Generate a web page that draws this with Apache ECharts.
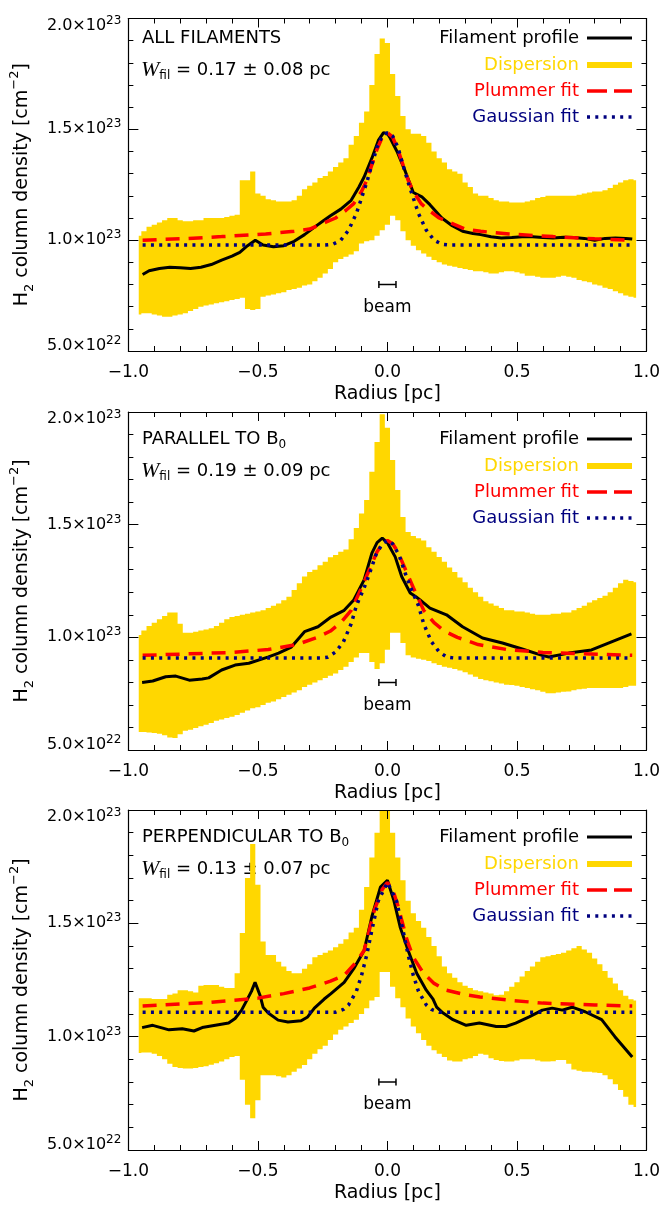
<!DOCTYPE html>
<html><head><meta charset="utf-8">
<script src="https://cdn.jsdelivr.net/npm/echarts@6/dist/echarts.min.js"></script>
<style>html,body{margin:0;padding:0;background:#fff}#c{width:663px;height:1205px}</style>
</head><body><div id="c"></div>
<script>
// Column densities are in units of 1e23 cm^-2; radii in pc.
const X_TICKS = [-1.0, -0.5, 0.0, 0.5, 1.0];
const Y_TICKS = [0.5, 1.0, 1.5, 2.0];

// Dispersion band sampled on bin centres (pc)
const BAND_R = [-0.96,-0.94,-0.92,-0.90,-0.88,-0.86,-0.84,-0.82,-0.80,-0.78,
-0.76,-0.74,-0.72,-0.70,-0.68,-0.66,-0.64,-0.62,-0.60,-0.58,
-0.56,-0.54,-0.52,-0.50,-0.48,-0.46,-0.44,-0.42,-0.40,-0.38,
-0.36,-0.34,-0.32,-0.30,-0.28,-0.26,-0.24,-0.22,-0.20,-0.18,
-0.16,-0.14,-0.12,-0.10,-0.08,-0.06,-0.04,-0.02,0.00,0.02,
0.04,0.06,0.08,0.10,0.12,0.14,0.16,0.18,0.20,0.22,
0.24,0.26,0.28,0.30,0.32,0.34,0.36,0.38,0.40,0.42,
0.44,0.46,0.48,0.50,0.52,0.54,0.56,0.58,0.60,0.62,
0.64,0.66,0.68,0.70,0.72,0.74,0.76,0.78,0.80,0.82,
0.84,0.86,0.88,0.90,0.92,0.94,0.96];

// Panel 1: ALL FILAMENTS
const ALL_UPPER = [1.02,1.04,1.06,1.07,1.08,1.09,1.10,1.10,1.09,1.085,
1.085,1.09,1.09,1.10,1.10,1.10,1.10,1.105,1.11,1.115,
1.27,1.27,1.31,1.21,1.20,1.185,1.18,1.175,1.175,1.175,
1.18,1.20,1.23,1.245,1.26,1.28,1.29,1.31,1.33,1.35,
1.37,1.43,1.47,1.53,1.58,1.70,1.84,1.91,1.89,1.75,
1.65,1.56,1.50,1.48,1.48,1.47,1.44,1.40,1.37,1.35,
1.32,1.31,1.30,1.26,1.24,1.21,1.20,1.20,1.19,1.18,
1.175,1.175,1.17,1.17,1.17,1.175,1.18,1.19,1.195,1.20,
1.20,1.20,1.20,1.20,1.20,1.205,1.21,1.215,1.22,1.22,
1.225,1.235,1.25,1.26,1.27,1.275,1.27];
const ALL_LOWER = [0.665,0.67,0.67,0.665,0.66,0.655,0.655,0.66,0.665,0.67,
0.68,0.69,0.70,0.705,0.71,0.715,0.72,0.725,0.73,0.735,
0.74,0.69,0.685,0.69,0.745,0.75,0.755,0.76,0.765,0.775,
0.78,0.785,0.795,0.80,0.815,0.83,0.85,0.87,0.90,0.915,
0.925,0.935,0.95,0.985,0.995,1.00,1.02,1.045,1.07,1.11,
1.09,1.04,1.00,0.975,0.955,0.94,0.925,0.91,0.90,0.89,
0.885,0.88,0.875,0.87,0.865,0.86,0.86,0.855,0.85,0.85,
0.855,0.86,0.86,0.855,0.85,0.84,0.84,0.835,0.83,0.83,
0.83,0.835,0.84,0.835,0.83,0.82,0.815,0.81,0.80,0.795,
0.785,0.78,0.77,0.76,0.75,0.745,0.74];
const ALL_PROF_R = [-0.945,-0.92,-0.88,-0.84,-0.80,-0.76,-0.72,-0.68,-0.64,-0.60,-0.57,-0.54,-0.51,-0.48,-0.44,-0.40,-0.36,-0.32,-0.28,-0.25,-0.22,-0.18,-0.14,-0.11,-0.09,-0.06,-0.035,-0.015,0.0,0.011,0.037,0.069,0.10,0.133,0.164,0.21,0.25,0.29,0.33,0.36,0.40,0.44,0.48,0.52,0.56,0.60,0.64,0.68,0.72,0.76,0.80,0.84,0.88,0.92,0.945];
const ALL_PROF_N = [0.845,0.862,0.872,0.878,0.876,0.872,0.878,0.89,0.91,0.928,0.945,0.975,1.0,0.978,0.97,0.975,0.995,1.025,1.06,1.085,1.11,1.14,1.18,1.24,1.285,1.37,1.45,1.485,1.48,1.46,1.40,1.31,1.215,1.195,1.16,1.10,1.065,1.04,1.03,1.025,1.015,1.01,1.012,1.015,1.015,1.012,1.01,1.013,1.012,1.008,1.0,1.008,1.01,1.008,1.005];
const ALL_PLUM_R = [-0.945,-0.80,-0.64,-0.47,-0.36,-0.30,-0.24,-0.20,-0.16,-0.13,-0.10,-0.08,-0.06,-0.04,-0.02,0.0,0.02,0.04,0.06,0.08,0.10,0.13,0.16,0.20,0.24,0.30,0.36,0.47,0.64,0.80,0.945];
const ALL_PLUM_N = [1.0,1.006,1.016,1.028,1.04,1.05,1.08,1.10,1.135,1.165,1.22,1.27,1.34,1.41,1.465,1.485,1.465,1.41,1.34,1.27,1.22,1.165,1.135,1.10,1.08,1.05,1.04,1.028,1.016,1.006,1.0];
const ALL_GAUS_R = [-0.945,-0.24,-0.21,-0.18,-0.15,-0.12,-0.10,-0.08,-0.06,-0.04,-0.02,0.0,0.02,0.04,0.06,0.08,0.10,0.12,0.15,0.18,0.21,0.24,0.945];
const ALL_GAUS_N = [0.978,0.978,0.982,1.0,1.045,1.12,1.19,1.26,1.34,1.42,1.47,1.485,1.47,1.42,1.34,1.26,1.19,1.12,1.045,1.0,0.982,0.978,0.978];

// Panel 2: PARALLEL TO B0
const PAR_UPPER = [1.01,1.03,1.05,1.065,1.08,1.095,1.11,1.11,1.06,1.02,
1.02,1.025,1.03,1.035,1.04,1.05,1.065,1.08,1.09,1.095,
1.10,1.105,1.11,1.115,1.12,1.13,1.14,1.15,1.165,1.18,
1.21,1.24,1.27,1.29,1.30,1.32,1.335,1.355,1.365,1.38,
1.39,1.435,1.485,1.55,1.61,1.735,1.867,1.99,1.93,1.787,
1.654,1.534,1.467,1.45,1.44,1.43,1.40,1.38,1.357,1.335,
1.31,1.29,1.265,1.245,1.22,1.20,1.18,1.16,1.15,1.14,
1.13,1.12,1.12,1.115,1.115,1.11,1.105,1.10,1.10,1.10,
1.105,1.105,1.11,1.11,1.12,1.13,1.14,1.155,1.165,1.175,
1.185,1.20,1.22,1.24,1.255,1.25,1.245];
const PAR_LOWER = [0.58,0.58,0.578,0.575,0.572,0.565,0.555,0.553,0.57,0.585,
0.59,0.598,0.605,0.612,0.62,0.63,0.635,0.642,0.648,0.655,
0.665,0.675,0.685,0.69,0.70,0.71,0.715,0.725,0.735,0.745,
0.755,0.765,0.78,0.79,0.80,0.81,0.82,0.83,0.84,0.855,
0.87,0.89,0.91,0.93,0.93,0.89,0.86,0.885,0.945,1.02,
1.02,0.975,0.92,0.91,0.905,0.90,0.895,0.885,0.877,0.87,
0.865,0.86,0.853,0.845,0.835,0.825,0.815,0.81,0.805,0.80,
0.795,0.79,0.788,0.785,0.78,0.775,0.77,0.765,0.758,0.752,
0.752,0.755,0.758,0.76,0.765,0.77,0.772,0.775,0.775,0.775,
0.775,0.775,0.775,0.775,0.78,0.785,0.785];
const PAR_PROF_R = [-0.947,-0.906,-0.856,-0.817,-0.765,-0.715,-0.69,-0.64,-0.588,-0.535,-0.459,-0.42,-0.371,-0.32,-0.268,-0.218,-0.167,-0.13,-0.09,-0.06,-0.04,-0.02,0.0,0.03,0.055,0.088,0.11,0.126,0.164,0.228,0.29,0.367,0.444,0.52,0.597,0.623,0.70,0.788,0.865,0.93,0.942];
const PAR_PROF_N = [0.80,0.806,0.825,0.828,0.81,0.815,0.82,0.855,0.877,0.885,0.913,0.93,0.957,1.025,1.047,1.09,1.12,1.166,1.255,1.374,1.42,1.44,1.42,1.357,1.27,1.197,1.18,1.166,1.13,1.10,1.047,0.997,0.975,0.948,0.92,0.913,0.93,0.944,0.98,1.01,1.015];
const PAR_PLUM_R = [-0.945,-0.60,-0.46,-0.35,-0.27,-0.22,-0.18,-0.14,-0.10,-0.07,-0.04,-0.02,0.0,0.02,0.04,0.07,0.10,0.14,0.18,0.22,0.27,0.35,0.46,0.60,0.945];
const PAR_PLUM_N = [0.92,0.933,0.946,0.968,1.0,1.028,1.065,1.12,1.22,1.30,1.38,1.415,1.43,1.415,1.38,1.30,1.22,1.12,1.065,1.028,1.0,0.968,0.946,0.933,0.92];
const PAR_GAUS_R = [-0.945,-0.26,-0.23,-0.20,-0.17,-0.14,-0.12,-0.09,-0.07,-0.045,-0.02,0.0,0.02,0.045,0.07,0.09,0.12,0.14,0.17,0.20,0.23,0.26,0.945];
const PAR_GAUS_N = [0.908,0.908,0.912,0.935,0.98,1.06,1.14,1.22,1.28,1.365,1.415,1.43,1.415,1.365,1.28,1.22,1.14,1.06,0.98,0.935,0.912,0.908,0.908];

// Panel 3: PERPENDICULAR TO B0
const PERP_UPPER = [1.17,1.17,1.17,1.166,1.166,1.166,1.185,1.19,1.205,1.205,
1.20,1.195,1.225,1.228,1.228,1.228,1.22,1.215,1.215,1.28,
1.457,1.70,1.85,1.67,1.42,1.36,1.36,1.33,1.31,1.29,
1.28,1.28,1.30,1.32,1.35,1.36,1.37,1.38,1.395,1.41,
1.43,1.46,1.48,1.56,1.66,1.79,1.90,2.03,2.03,1.90,
1.79,1.69,1.60,1.545,1.51,1.48,1.44,1.40,1.355,1.31,
1.28,1.26,1.24,1.225,1.215,1.205,1.20,1.195,1.19,1.183,
1.185,1.20,1.22,1.24,1.265,1.29,1.31,1.33,1.35,1.355,
1.36,1.365,1.37,1.38,1.39,1.40,1.385,1.37,1.345,1.32,
1.29,1.26,1.235,1.205,1.18,1.165,1.16];
const PERP_LOWER = [0.928,0.93,0.93,0.925,0.915,0.90,0.88,0.866,0.862,0.86,
0.86,0.862,0.866,0.87,0.876,0.883,0.89,0.90,0.91,0.915,
0.81,0.70,0.64,0.72,0.83,0.83,0.83,0.825,0.82,0.83,
0.845,0.86,0.875,0.90,0.925,0.945,0.96,0.985,1.01,1.03,
1.045,1.06,1.075,1.10,1.125,1.16,1.175,1.285,1.285,1.22,
1.17,1.13,1.08,1.045,1.015,0.985,0.96,0.94,0.925,0.91,
0.895,0.89,0.89,0.90,0.905,0.915,0.925,0.92,0.905,0.897,
0.893,0.89,0.89,0.895,0.90,0.90,0.90,0.895,0.89,0.89,
0.892,0.897,0.897,0.88,0.855,0.85,0.845,0.845,0.842,0.84,
0.83,0.812,0.79,0.765,0.735,0.70,0.69];
const PERP_PROF_R = [-0.947,-0.906,-0.843,-0.792,-0.747,-0.715,-0.664,-0.613,-0.588,-0.563,-0.543,-0.525,-0.511,-0.492,-0.48,-0.46,-0.422,-0.384,-0.333,-0.308,-0.282,-0.244,-0.218,-0.167,-0.13,-0.09,-0.06,-0.027,0.0,0.025,0.05,0.08,0.113,0.15,0.176,0.19,0.215,0.253,0.304,0.355,0.42,0.457,0.495,0.547,0.598,0.636,0.675,0.713,0.763,0.827,0.878,0.945];
const PERP_PROF_N = [1.04,1.05,1.03,1.035,1.025,1.04,1.05,1.06,1.08,1.117,1.16,1.20,1.24,1.183,1.13,1.104,1.073,1.065,1.07,1.087,1.126,1.166,1.19,1.24,1.30,1.38,1.53,1.66,1.69,1.60,1.48,1.38,1.28,1.205,1.166,1.13,1.104,1.075,1.05,1.06,1.045,1.045,1.06,1.087,1.117,1.126,1.117,1.13,1.11,1.075,1.0,0.91];
const PERP_PLUM_R = [-0.945,-0.70,-0.50,-0.40,-0.30,-0.22,-0.167,-0.12,-0.09,-0.05,-0.02,0.0,0.02,0.04,0.076,0.10,0.139,0.18,0.228,0.30,0.357,0.48,0.60,0.80,0.945];
const PERP_PLUM_N = [1.135,1.15,1.17,1.19,1.215,1.245,1.27,1.33,1.38,1.56,1.65,1.68,1.65,1.58,1.425,1.35,1.28,1.235,1.205,1.185,1.175,1.16,1.148,1.14,1.135];
const PERP_GAUS_R = [-0.945,-0.20,-0.17,-0.15,-0.12,-0.10,-0.08,-0.06,-0.035,0.0,0.035,0.06,0.08,0.10,0.12,0.15,0.17,0.20,0.945];
const PERP_GAUS_N = [1.108,1.108,1.12,1.14,1.20,1.27,1.36,1.47,1.60,1.68,1.60,1.47,1.36,1.27,1.20,1.14,1.12,1.108,1.108];

const BEAM_R = [-0.033, 0.033];
const BEAM_N = 0.8;

const TITLES = ['ALL FILAMENTS', 'PARALLEL TO B', 'PERPENDICULAR TO B'];
const TITLE_SUB = ['', '0', '0'];
const WFIL = ['0.17 \u00b1 0.08', '0.19 \u00b1 0.09', '0.13 \u00b1 0.07'];
const LEGEND_NAMES = ['Filament profile', 'Dispersion', 'Plummer fit', 'Gaussian fit'];

// ---------- styling / layout ----------
const FONT = 'DejaVu Sans';
const YELLOW = '#FFD700', RED = '#FF0000', NAVY = '#00007F', BLACK = '#000000';
const GRID_LEFT = 125, GRID_W = 523;
const GRID_TOPS = [11, 412, 810];
const GRID_HS = [340, 338, 340];

const panels = [
  {U: ALL_UPPER, L: ALL_LOWER, pr: ALL_PROF_R, pn: ALL_PROF_N, plr: ALL_PLUM_R, pln: ALL_PLUM_N, gr: ALL_GAUS_R, gn: ALL_GAUS_N},
  {U: PAR_UPPER, L: PAR_LOWER, pr: PAR_PROF_R, pn: PAR_PROF_N, plr: PAR_PLUM_R, pln: PAR_PLUM_N, gr: PAR_GAUS_R, gn: PAR_GAUS_N},
  {U: PERP_UPPER, L: PERP_LOWER, pr: PERP_PROF_R, pn: PERP_PROF_N, plr: PERP_PLUM_R, pln: PERP_PLUM_N, gr: PERP_GAUS_R, gn: PERP_GAUS_N}
];

const zip = (a, b) => a.map((v, i) => [v, b[i]]);
const YMIN = Y_TICKS[0], YMAX = Y_TICKS[Y_TICKS.length - 1];

function xLabel(v) {
  if (Math.abs(v) < 1e-9) return '0.0';
  return (v < 0 ? '\u2212' : '') + Math.abs(v).toFixed(1);
}
function yLabel(v) {
  const exp = v < 1 ? 22 : 23;
  const mant = v < 1 ? v * 10 : v;
  let m = 'm', s = 's';
  if (Math.abs(v - YMIN) < 1e-9) { m = 'mb'; s = 'sb'; }
  if (Math.abs(v - YMAX) < 1e-9) { m = 'mt'; s = 'st'; }
  return '{' + m + '|' + mant.toFixed(1) + '\u00d710}{' + s + '|' + exp + '}';
}
const yRich = {
  m:  {fontFamily: FONT, fontSize: 16, lineHeight: 16, color: BLACK},
  s:  {fontFamily: FONT, fontSize: 12, lineHeight: 12, color: BLACK, padding: [0, 0, 10, 0]},
  mt: {fontFamily: FONT, fontSize: 16, lineHeight: 16, color: BLACK, padding: [14, 0, 0, 0]},
  st: {fontFamily: FONT, fontSize: 12, lineHeight: 12, color: BLACK, padding: [15, 0, 10, 0]},
  mb: {fontFamily: FONT, fontSize: 16, lineHeight: 16, color: BLACK, padding: [0, 0, 10, 0]},
  sb: {fontFamily: FONT, fontSize: 12, lineHeight: 12, color: BLACK, padding: [0, 0, 20, 0]}
};

// Step-shaped dispersion band drawn as one polygon: bin edges at the midpoints between bin
// centres, every vertex positioned through the axes' own scales (api.coord).
function bandRenderer(params, api) {
  if (params.dataIndex !== 0) return null;
  const n = params.dataInsideLength;
  const cs = params.coordSys;
  const clampY = p => [p[0], Math.min(Math.max(p[1], cs.y), cs.y + cs.height)];
  const r = j => api.value(0, j);
  const edgeL = j => j === 0 ? r(0) : (r(j - 1) + r(j)) / 2;
  const edgeR = j => j === n - 1 ? r(n - 1) : (r(j) + r(j + 1)) / 2;
  const pts = [];
  for (let j = 0; j < n; j++) {
    pts.push(clampY(api.coord([edgeL(j), api.value(2, j)])));
    pts.push(clampY(api.coord([edgeR(j), api.value(2, j)])));
  }
  for (let j = n - 1; j >= 0; j--) {
    pts.push(clampY(api.coord([edgeR(j), api.value(1, j)])));
    pts.push(clampY(api.coord([edgeL(j), api.value(1, j)])));
  }
  return {type: 'polygon', shape: {points: pts}, style: {fill: YELLOW, stroke: null}};
}

const axisLine = {show: true, onZero: false, lineStyle: {color: BLACK, width: 1.2}};
const grids = [], xAxes = [], yAxes = [], series = [], graphics = [];

panels.forEach((p, i) => {
  const top = GRID_TOPS[i];
  grids.push({left: GRID_LEFT, top: top, width: GRID_W, height: GRID_HS[i], containLabel: false});
  const xBase = {
    gridIndex: i, type: 'value', min: X_TICKS[0], max: X_TICKS[X_TICKS.length - 1], interval: 0.5,
    axisLine: axisLine, splitLine: {show: false}, z: 10,
    axisTick: {show: true, inside: true, length: 9, lineStyle: {color: BLACK, width: 1}},
    minorTick: {show: true, splitNumber: 5, length: 5, lineStyle: {color: BLACK, width: 1}}
  };
  xAxes.push(Object.assign({}, xBase, {
    position: 'bottom',
    axisLabel: {show: true, formatter: xLabel, fontFamily: FONT, fontSize: 17, color: BLACK, margin: 13, showMinLabel: true, showMaxLabel: true},
    name: 'Radius [pc]', nameLocation: 'middle', nameGap: 34,
    nameTextStyle: {fontFamily: FONT, fontSize: 19, color: BLACK}
  }));
  xAxes.push(Object.assign({}, xBase, {position: 'top', axisLabel: {show: false}}));
  const yBase = {
    gridIndex: i, type: 'value', min: YMIN, max: YMAX, interval: 0.5,
    axisLine: axisLine, splitLine: {show: false}, z: 10,
    axisTick: {show: true, inside: true, length: 10, lineStyle: {color: BLACK, width: 1}},
    minorTick: {show: true, splitNumber: 5, length: 5, lineStyle: {color: BLACK, width: 1}}
  };
  yAxes.push(Object.assign({}, yBase, {
    position: 'left',
    axisLabel: {show: true, formatter: yLabel, rich: yRich, margin: 7, showMinLabel: true, showMaxLabel: true},
    name: '{n|H}{b|2}{n| column density [cm}{p|\u22122}{n|]}',
    nameLocation: 'middle', nameGap: 90, nameRotate: 90,
    nameTextStyle: {fontFamily: FONT, fontSize: 19, color: BLACK, rich: {
      n: {fontFamily: FONT, fontSize: 19, lineHeight: 28, color: BLACK},
      b: {fontFamily: FONT, fontSize: 13, lineHeight: 13, color: BLACK, verticalAlign: 'bottom'},
      p: {fontFamily: FONT, fontSize: 13, lineHeight: 13, color: BLACK, verticalAlign: 'top'}
    }}
  }));
  yAxes.push(Object.assign({}, yBase, {position: 'right', axisLabel: {show: false}}));

  const xa = 2 * i, ya = 2 * i;
  series.push({
    type: 'custom', xAxisIndex: xa, yAxisIndex: ya, silent: true, z: 1, clip: true,
    data: BAND_R.map((r, k) => [r, p.L[k], p.U[k]]),
    encode: {x: 0, y: [1, 2]},
    renderItem: bandRenderer
  });
  series.push({
    type: 'line', xAxisIndex: xa, yAxisIndex: ya, data: zip(p.pr, p.pn), symbol: 'none',
    lineStyle: {color: BLACK, width: 3}, silent: true, z: 3
  });
  series.push({
    type: 'line', xAxisIndex: xa, yAxisIndex: ya, data: zip(p.plr, p.pln), symbol: 'none',
    lineStyle: {color: RED, width: 3.5, type: [14, 9]}, silent: true, z: 4
  });
  series.push({
    type: 'line', xAxisIndex: xa, yAxisIndex: ya, data: zip(p.gr, p.gn), symbol: 'none',
    lineStyle: {color: NAVY, width: 3.5, type: [3, 5.3]}, silent: true, z: 5
  });
  series.push({
    type: 'line', xAxisIndex: xa, yAxisIndex: ya, data: BEAM_R.map(r => [r, BEAM_N]),
    symbol: 'rect', symbolSize: [1.5, 7], itemStyle: {color: BLACK},
    lineStyle: {color: BLACK, width: 1.5}, silent: true, z: 6
  });

  // Panel annotations
  graphics.push({
    type: 'text', x: 142, y: top + 27, silent: true,
    style: {text: '{t|' + TITLES[i] + '}' + (TITLE_SUB[i] ? '{s|' + TITLE_SUB[i] + '}' : ''), verticalAlign: 'middle', align: 'left',
      rich: {t: {fontFamily: FONT, fontSize: 18, lineHeight: 24, fill: BLACK}, s: {fontFamily: FONT, fontSize: 12, lineHeight: 12, verticalAlign: 'bottom', fill: BLACK}}}
  });
  graphics.push({
    type: 'text', x: 141, y: top + 59, silent: true,
    style: {text: '{w|W}{f|fil}{t| = ' + WFIL[i] + ' pc}', verticalAlign: 'middle', align: 'left',
      rich: {
        w: {fontFamily: 'Liberation Serif', fontStyle: 'italic', fontSize: 22, lineHeight: 24, fill: BLACK},
        f: {fontFamily: FONT, fontSize: 12, lineHeight: 12, verticalAlign: 'bottom', fill: BLACK},
        t: {fontFamily: FONT, fontSize: 18, lineHeight: 24, fill: BLACK}
      }}
  });
  // Legend
  const rows = [27, 54, 80, 106];
  const colors = [BLACK, YELLOW, RED, NAVY];
  const styles = [
    {stroke: BLACK, lineWidth: 3},
    {stroke: YELLOW, lineWidth: 6},
    {stroke: RED, lineWidth: 3.5, lineDash: [20, 7]},
    {stroke: NAVY, lineWidth: 3.5, lineDash: [3, 5.3]}
  ];
  LEGEND_NAMES.forEach((nm, k) => {
    const y = top + rows[k];
    graphics.push({type: 'text', x: 579, y: y, silent: true,
      style: {text: nm, fill: colors[k], font: '18px "' + FONT + '"', align: 'right', verticalAlign: 'middle'}});
    graphics.push({type: 'line', silent: true, shape: {x1: 587, y1: y, x2: 632, y2: y}, style: styles[k]});
  });
});

const chart = echarts.init(document.getElementById('c'), null, {renderer: 'canvas'});
chart.setOption({
  animation: false,
  backgroundColor: '#fff',
  grid: grids, xAxis: xAxes, yAxis: yAxes, series: series,
  graphic: graphics
});
// "beam" caption placed under the beam bar, using the axes' own conversion.
const beamTexts = panels.map((p, i) => {
  const pt = chart.convertToPixel({xAxisIndex: 2 * i, yAxisIndex: 2 * i}, [0, BEAM_N]);
  return {type: 'text', x: pt[0], y: pt[1] + 23, silent: true,
    style: {text: 'beam', fill: BLACK, font: '17px "' + FONT + '"', align: 'center', verticalAlign: 'middle'}};
});
chart.setOption({graphic: graphics.concat(beamTexts)});
</script></body></html>
